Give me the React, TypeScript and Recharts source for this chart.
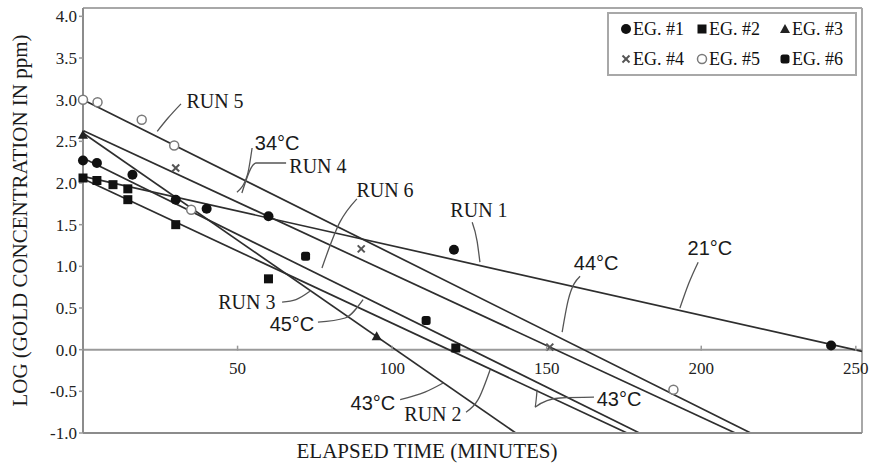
import React from 'react';
import {
  ComposedChart,
  Line,
  Scatter,
  XAxis,
  YAxis,
  ReferenceLine,
  Legend,
} from 'recharts';

// ---------- axis ticks ----------
const xTicks = [50, 100, 150, 200, 250];
const yTicks = [-1, -0.5, 0, 0.5, 1, 1.5, 2, 2.5, 3, 3.5, 4];

// ---------- fitted run lines (elapsed minutes, log ppm) ----------
const run1Line = [{ x: 0, y: 2.08 }, { x: 252, y: -0.02 }];
const run2Line = [{ x: 0, y: 2.05 }, { x: 176, y: -1 }];
const run3Line = [{ x: 0, y: 2.6 }, { x: 140, y: -1 }];
const run4Line = [{ x: 0, y: 2.63 }, { x: 211, y: -1 }];
const run5Line = [{ x: 0, y: 3.0 }, { x: 216, y: -1 }];
const run6Line = [{ x: 0, y: 2.3 }, { x: 180, y: -1 }];

// ---------- measured points ----------
const eg1 = [
  { x: 0, y: 2.27 }, { x: 4.5, y: 2.24 }, { x: 16, y: 2.1 }, { x: 30, y: 1.8 },
  { x: 40, y: 1.69 }, { x: 60, y: 1.6 }, { x: 120, y: 1.2 }, { x: 242, y: 0.05 },
];
const eg2 = [
  { x: 0, y: 2.06 }, { x: 4.5, y: 2.03 }, { x: 9.7, y: 1.98 }, { x: 14.5, y: 1.93 },
  { x: 14.5, y: 1.8 }, { x: 30, y: 1.5 }, { x: 60, y: 0.85 }, { x: 120.6, y: 0.02 },
];
const eg3 = [{ x: 0, y: 2.58 }, { x: 95, y: 0.16 }];
const eg4 = [{ x: 30, y: 2.18 }, { x: 90, y: 1.21 }, { x: 151, y: 0.03 }];
const eg5 = [
  { x: 0, y: 3.0 }, { x: 4.7, y: 2.97 }, { x: 19, y: 2.76 }, { x: 29.5, y: 2.45 },
  { x: 35, y: 1.68 }, { x: 191, y: -0.48 },
];
const eg6 = [{ x: 72, y: 1.12 }, { x: 111, y: 0.35 }];

const legendNames = ['EG. #1', 'EG. #2', 'EG. #3', 'EG. #4', 'EG. #5', 'EG. #6'];

// ---------- annotations (data coordinates) ----------
const runLabels = [
  { x: 42.7, y: 2.98, text: 'RUN 5' },
  { x: 76, y: 2.2, text: 'RUN 4' },
  { x: 97.7, y: 1.92, text: 'RUN 6' },
  { x: 128.1, y: 1.68, text: 'RUN 1' },
  { x: 53, y: 0.57, text: 'RUN 3' },
  { x: 113.2, y: -0.77, text: 'RUN 2' },
];
const tempLabels = [
  { x: 62.8, y: 2.48, text: '34°C' },
  { x: 166, y: 1.04, text: '44°C' },
  { x: 202.8, y: 1.22, text: '21°C' },
  { x: 67.6, y: 0.31, text: '45°C' },
  { x: 93.8, y: -0.64, text: '43°C' },
  { x: 173.4, y: -0.59, text: '43°C' },
];
const leaders = [
  [{ x: 31.7, y: 2.95 }, { x: 27.5, y: 2.78 }, { x: 24, y: 2.62 }],
  [{ x: 54.7, y: 2.42 }, { x: 53.2, y: 2.1 }, { x: 49.8, y: 1.89 }],
  [{ x: 65.7, y: 2.24 }, { x: 56, y: 2.24 }, { x: 51.4, y: 1.88 }],
  [{ x: 88.6, y: 1.81 }, { x: 83.1, y: 1.53 }, { x: 77.3, y: 0.98 }],
  [{ x: 125.9, y: 1.53 }, { x: 127.5, y: 1.3 }, { x: 128.4, y: 1.05 }],
  [{ x: 160.8, y: 0.88 }, { x: 157, y: 0.6 }, { x: 155, y: 0.21 }],
  [{ x: 199, y: 1.05 }, { x: 196, y: 0.8 }, { x: 193.1, y: 0.5 }],
  [{ x: 64.4, y: 0.57 }, { x: 68.9, y: 0.6 }, { x: 73.4, y: 0.7 }],
  [{ x: 76, y: 0.33 }, { x: 84.8, y: 0.38 }, { x: 90.6, y: 0.6 }],
  [{ x: 102.6, y: -0.6 }, { x: 110.6, y: -0.51 }, { x: 116.5, y: -0.4 }],
  [{ x: 123.9, y: -0.75 }, { x: 127.8, y: -0.6 }, { x: 131.7, y: -0.24 }],
  [{ x: 165.3, y: -0.57 }, { x: 154.3, y: -0.58 }, { x: 146.2, y: -0.69 }, { x: 146.9, y: -0.48 }],
];

const SERIF = '"Liberation Serif", "Times New Roman", serif';
const SANS = '"Liberation Sans", Arial, sans-serif';
const LINE_COLOR = '#2e2e2e';
const AXIS_COLOR = '#8c8c8c';

// ---------- marker shapes ----------
const markerAt = (kind: number, cx: number, cy: number, key?: any) => {
  switch (kind) {
    case 0:
      return <circle key={key} cx={cx} cy={cy} r={5} fill="#111" />;
    case 1:
      return <rect key={key} x={cx - 4.5} y={cy - 4.5} width={9} height={9} fill="#111" />;
    case 2:
      return <path key={key} d={`M${cx},${cy - 5} L${cx + 5},${cy + 4} L${cx - 5},${cy + 4} Z`} fill="#222" />;
    case 3:
      return (
        <g key={key} stroke="#555" strokeWidth={2}>
          <line x1={cx - 3.5} y1={cy - 3.5} x2={cx + 3.5} y2={cy + 3.5} />
          <line x1={cx - 3.5} y1={cy + 3.5} x2={cx + 3.5} y2={cy - 3.5} />
        </g>
      );
    case 4:
      return <circle key={key} cx={cx} cy={cy} r={4.5} fill="#fff" stroke="#7a7a7a" strokeWidth={1.5} />;
    default:
      return <rect key={key} x={cx - 4.5} y={cy - 4.5} width={9} height={9} rx={2.5} fill="#111" />;
  }
};

const makeShape = (kind: number) => (p: any) => {
  if (p.cx == null || p.cy == null) return <g />;
  return markerAt(kind, p.cx, p.cy);
};

const xTickShape = (p: any) => (
  <g>
    <line x1={p.cx} x2={p.cx} y1={p.cy - 4} y2={p.cy + 1} stroke="#999" strokeWidth={1.5} />
    <text x={p.cx} y={p.cy + 24} textAnchor="middle" fontSize={17} fontFamily={SERIF} fill="#222">
      {p.payload.x}
    </text>
  </g>
);

const textShape = (family: string) => (p: any) => (
  <text
    x={p.cx}
    y={p.cy}
    textAnchor="middle"
    dominantBaseline="central"
    fontSize={20}
    fontFamily={family}
    fill="#1a1a1a"
  >
    {p.payload.text}
  </text>
);

const LegendBox = () => (
  <div
    style={{
      width: 246,
      height: 60,
      border: '2px solid #a8a8a8',
      background: '#fff',
      boxSizing: 'content-box',
      display: 'grid',
      gridTemplateColumns: '84px 83px 79px',
      gridTemplateRows: '30px 30px',
      fontFamily: SERIF,
      fontSize: 18,
      color: '#111',
    }}
  >
    {legendNames.map((name, i) => (
      <div key={name} style={{ display: 'flex', alignItems: 'center', paddingLeft: i % 3 === 0 ? 11 : 3 }}>
        <svg width={12} height={12} style={{ marginRight: 1 }}>
          {markerAt(i, 6, 6)}
        </svg>
        <span>{name}</span>
      </div>
    ))}
  </div>
);

const XTitle = (props: any) => {
  const vb = props.viewBox || {};
  return (
    <text x={427} y={(vb.y || 433) + 18} textAnchor="middle" dominantBaseline="central" fontSize={21} fontFamily={SERIF} fill="#1a1a1a">
      ELAPSED TIME (MINUTES)
    </text>
  );
};

const YTitle = (props: any) => {
  const vb = props.viewBox || {};
  const cy = (vb.y ?? 8) + (vb.height ?? 425) / 2;
  return (
    <text
      x={20}
      y={cy}
      transform={`rotate(-90, 20, ${cy})`}
      textAnchor="middle"
      dominantBaseline="central"
      fontSize={21}
      fontFamily={SERIF}
      fill="#1a1a1a"
    >
      LOG (GOLD CONCENTRATION IN ppm)
    </text>
  );
};

const runLines = [run1Line, run2Line, run3Line, run4Line, run5Line, run6Line];
const egSets = [eg1, eg2, eg3, eg4, eg5, eg6];

export default function App() {
  const xTickData = xTicks.map((v) => ({ x: v, y: 0 }));
  return (
    <div style={{ position: 'absolute', left: 0, top: 0, background: '#fff' }}>
      <ComposedChart width={872} height={463} margin={{ top: 8, right: 10, bottom: 0, left: 23 }}>
        <XAxis
          type="number"
          dataKey="x"
          domain={[0, 252]}
          ticks={[]}
          tick={false}
          tickLine={false}
          axisLine={{ stroke: AXIS_COLOR, strokeWidth: 2 }}
          height={30}
          label={{ content: XTitle } as any}
        />
        <YAxis
          type="number"
          dataKey="y"
          domain={[-1, 4.1]}
          ticks={yTicks}
          interval={0}
          allowDataOverflow
          width={60}
          tickSize={4}
          tickFormatter={(v: number) => v.toFixed(1)}
          tick={{ fontSize: 17, fontFamily: SERIF, fill: '#222' }}
          tickLine={{ stroke: '#999', strokeWidth: 1.5 }}
          axisLine={{ stroke: AXIS_COLOR, strokeWidth: 2 }}
          label={{ content: YTitle } as any}
        />
        <ReferenceLine y={4.1} stroke="#a8a8a8" strokeWidth={2} ifOverflow="extendDomain" />
        <ReferenceLine x={252} stroke="#a8a8a8" strokeWidth={2} ifOverflow="extendDomain" />
        <ReferenceLine y={0} stroke="#9a9a9a" strokeWidth={2} />

        {runLines.map((d, i) => (
          <Line
            key={`run${i}`}
            data={d}
            dataKey="y"
            type="linear"
            dot={false}
            activeDot={false}
            stroke={LINE_COLOR}
            strokeWidth={1.7}
            isAnimationActive={false}
            legendType="none"
          />
        ))}
        {leaders.map((d, i) => (
          <Line
            key={`lead${i}`}
            data={d}
            dataKey="y"
            type="monotone"
            dot={false}
            activeDot={false}
            stroke="#555"
            strokeWidth={1.3}
            isAnimationActive={false}
            legendType="none"
          />
        ))}
        {egSets.map((d, i) => (
          <Scatter
            key={`eg${i}`}
            name={legendNames[i]}
            data={d}
            dataKey="y"
            shape={makeShape(i)}
            isAnimationActive={false}
          />
        ))}
        <Scatter data={xTickData} dataKey="y" shape={xTickShape} isAnimationActive={false} legendType="none" />
        <Scatter data={runLabels} dataKey="y" shape={textShape(SERIF)} isAnimationActive={false} legendType="none" />
        <Scatter data={tempLabels} dataKey="y" shape={textShape(SANS)} isAnimationActive={false} legendType="none" />

        <Legend
          layout="vertical"
          align="center"
          verticalAlign="middle"
          content={() => <LegendBox />}
          wrapperStyle={{ position: 'absolute', left: 607, top: 12, width: 250, height: 64 }}
        />
      </ComposedChart>
    </div>
  );
}
